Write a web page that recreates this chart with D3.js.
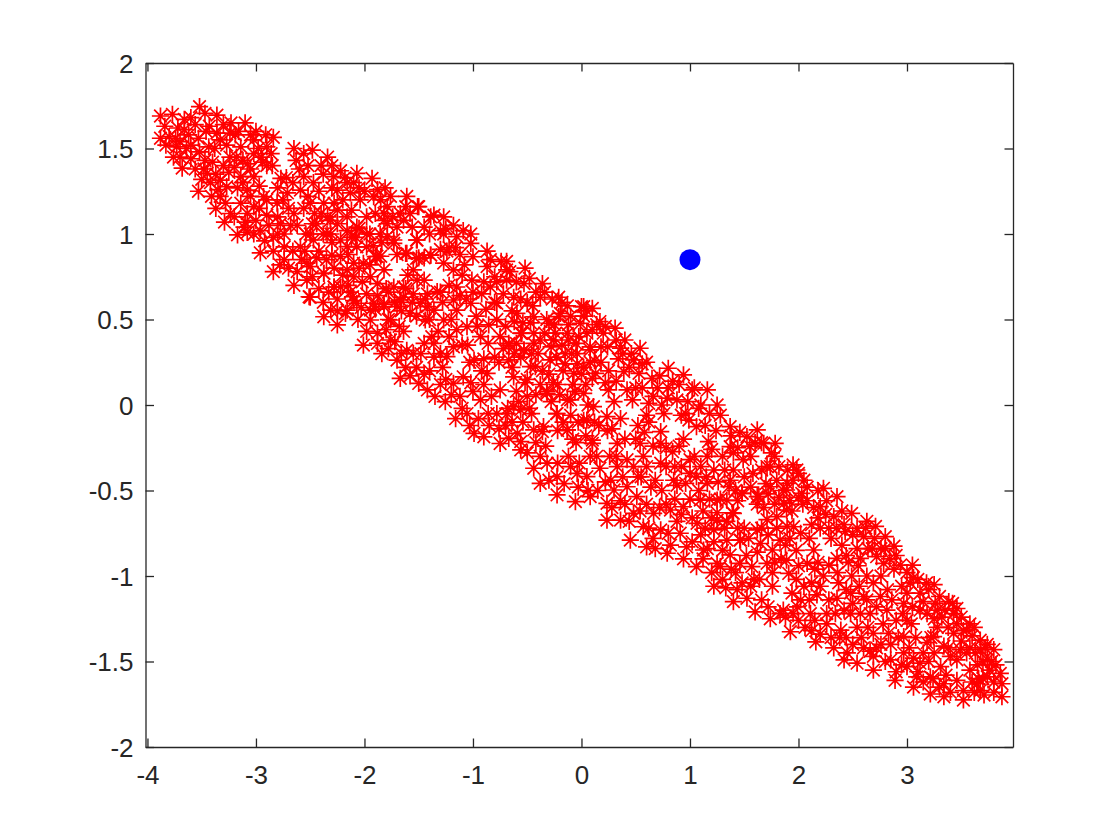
<!DOCTYPE html>
<html>
<head>
<meta charset="utf-8">
<script src="https://cdn.jsdelivr.net/npm/d3@7"></script>
<style>
  html, body { margin: 0; background: #fff; }
  .axis text { font-family: "Liberation Sans", Arial, sans-serif; font-size: 26px; fill: #262626; }
  .axis line, .axis path { stroke: #262626; stroke-width: 1.3; }
</style>
</head>
<body>
<div id="chart"></div>
<script>
const xTicks = [-4, -3, -2, -1, 0, 1, 2, 3];
const yTicks = [-2, -1.5, -1, -0.5, 0, 0.5, 1, 1.5, 2];
const bluePoint = [[1, 0.85]];

// one array per stretch of the band
const leftLobe = [
  [-3.88,1.69],[-3.77,1.70],[-3.66,1.67],[-3.60,1.68],[-3.52,1.745],[-3.47,1.705],[-3.36,1.695],[-3.23,1.65],[-3.10,1.65],[-3.00,1.60],
  [-2.91,1.58],[-2.84,1.565],[-3.88,1.56],[-3.80,1.57],[-3.83,1.52],[-3.73,1.51],[-3.66,1.61],[-3.53,1.56],[-3.60,1.52],[-3.76,1.45],
  [-3.68,1.385],[-3.60,1.44],[-3.53,1.25],[-3.50,1.32],[-3.42,1.30],[-3.40,1.42],[-3.33,1.55],[-3.24,1.59],[-3.36,1.59],[-3.24,1.45],
  [-3.14,1.51],[-3.02,1.55],[-2.90,1.40],[-2.94,1.42],[-2.85,1.40],[-2.65,1.50],[-2.63,1.43],[-2.48,1.49],[-2.56,1.47],[-2.34,1.45],
  [-2.40,1.40],[-2.22,1.37],[-2.07,1.355],[-1.93,1.325],[-1.81,1.27],[-1.61,1.22],[-1.51,1.16],[-1.39,1.10],[-3.37,1.15],[-3.29,1.07],
  [-3.17,0.995],[-3.08,1.01],[-2.84,0.78],[-2.96,0.89],[-2.65,0.70],[-2.50,0.63],[-2.38,0.60],[-2.25,0.55],[-3.14,1.335],[-3.02,1.335],
  [-3.08,1.257],[-2.93,1.218],[-3.14,1.18],[-3.02,1.16],[-2.90,1.11],[-2.77,1.325],[-2.71,1.24],[-2.59,1.257],[-2.65,1.12],[-2.62,1.05],
  [-2.50,1.18],[-2.375,1.18],[-2.25,1.257],[-2.13,1.24],[-2.04,1.20],[-1.915,1.218],[-1.79,1.16],[-1.67,1.12],[-1.70,1.04],[-2.07,1.04],
  [-2.16,1.02],[-2.345,1.00],[-2.47,0.965],[-2.59,0.925],[-2.74,0.925],[-2.84,0.98],[-3.02,1.00],[-3.11,1.04],[-2.96,1.02],[-2.53,0.83],
  [-2.62,0.78],[-2.375,0.77],[-2.22,0.69],[-2.10,0.83],[-1.98,0.925],[-1.885,0.87],[-1.82,0.79],[-1.945,0.75],[-2.10,0.75],[-2.28,0.69],
  [-1.98,0.65],[-1.82,0.59],[-1.64,0.69],[-1.45,0.73],[-1.55,0.79],[-1.61,0.887],[-1.515,0.965],[-1.39,0.877],[-1.485,0.595],[-1.36,0.555],
  [-2.10,0.61],[-2.16,0.555],[-3.45,1.355],[-3.33,1.315],[-3.20,1.39],[-3.08,1.41],[-3.435,1.51],[-3.02,1.47],[-2.90,1.51],[-3.27,1.277],
  [-3.235,1.12],[-2.805,1.18],[-2.775,1.06],[-2.47,1.30],[-2.56,1.335],[-2.285,1.335],[-2.16,1.30],[-2.44,1.06],[-2.25,1.14],[-2.16,1.10],
  [-2.315,1.08],[-1.855,1.00],[-1.79,1.06],[-1.73,0.965],[-2.22,0.867],[-2.07,0.925],[-2.22,0.965],[-2.53,0.73],[-2.74,0.85],[-1.73,0.69],
  [-1.64,0.63],[-1.70,0.575],[-1.915,0.595],[-1.30,1.02],
  [-3.72,1.62],[-3.70,1.45],[-3.64,1.50],[-3.56,1.38],[-3.47,1.43],[-3.46,1.60],[-3.41,1.22],[-3.33,1.22],[-3.30,1.40],[-3.27,1.52],
  [-3.19,1.58],[-3.17,1.27],[-3.20,1.10],[-3.12,1.43],[-3.08,1.12],[-3.05,1.58],[-2.97,1.28],[-2.95,1.45],[-2.97,1.15],
  [-2.88,1.05],[-2.84,0.90],[-2.80,1.27],[-2.74,1.00],[-2.70,1.15],[-2.70,0.80],[-2.66,1.30],[-2.56,1.15],[-2.54,1.00],[-2.55,0.90],
  [-2.46,1.12],[-2.42,1.25],[-2.42,0.90],[-2.38,1.35],[-2.34,1.10],[-2.30,1.27],[-2.30,0.95],[-2.28,0.80],[-2.20,1.20],[-2.12,1.14],
  [-2.12,0.98],[-2.15,0.70],[-2.05,1.27],[-2.02,0.72],[-1.98,1.10],[-1.95,1.00],[-1.90,1.12],[-1.88,1.26]
];
const leftFill = [
  [-3.84,1.63],[-3.74,1.56],[-3.70,1.54],[-3.62,1.58],[-3.56,1.64],[-3.52,1.48],[-3.48,1.38],[-3.43,1.63],[-3.38,1.50],[-3.37,1.35],
  [-3.35,1.26],[-3.30,1.64],[-3.28,1.18],[-3.25,1.36],[-3.18,1.45],[-3.16,1.60],[-3.12,1.30],[-3.10,1.07],[-3.05,1.22],[-3.05,1.38],
  [-3.00,1.08],[-2.98,1.50],[-2.92,0.96],[-2.90,1.20],[-2.86,1.47],[-2.80,1.10],[-2.80,1.00],[-2.78,0.82],[-2.75,1.20],[-2.72,1.33],
  [-2.68,1.05],[-2.66,0.90],[-2.60,1.38],[-2.58,0.85],[-2.52,1.40],[-2.52,1.22],[-2.48,1.06],[-2.48,0.75],[-2.44,0.86],[-2.42,0.68],
  [-2.40,1.12],[-2.38,1.00],[-2.35,0.85],[-2.33,0.66],[-2.30,1.40],[-2.28,1.18],[-2.25,1.06],[-2.25,0.62],[-2.20,0.76],[-2.18,1.33],
  [-2.15,0.88],[-2.13,0.66],[-2.10,1.30],[-2.08,0.98],[-2.05,0.80],[-2.03,0.57],[-2.00,1.25],[-1.98,1.00],[-1.95,0.82],[-1.92,0.93],
  [-1.90,0.56],[-1.85,1.20],[-1.84,0.95],[-1.82,1.12],[-1.80,0.68],[-1.78,0.50],[-1.76,1.22],[-1.74,1.10],[-1.72,0.60],[-1.66,0.55],
  [-1.62,1.16],[-1.60,0.76],[-1.56,1.04],[-1.55,0.65],[-1.52,0.52],[-1.50,0.86]
];
const midLeft = [
  [-1.50,1.16],[-1.36,1.11],[-1.27,1.10],[-1.18,1.05],[-1.02,1.00],[-1.09,1.02],[-0.87,0.90],[-0.69,0.84],[-0.52,0.80],[-0.36,0.71],
  [-0.21,0.63],[0.00,0.575],[0.10,0.565],[0.14,0.47],[-1.27,1.00],[-1.15,0.985],[-1.02,0.945],[-1.30,0.91],[-1.39,0.877],[-1.52,0.965],
  [-1.73,0.945],[-1.85,0.87],[-1.62,0.887],[-1.52,0.858],[-1.27,0.83],[-1.18,0.79],[-1.00,0.867],[-0.87,0.81],[-0.69,0.79],[-1.01,0.73],
  [-1.15,0.69],[-0.84,0.69],[-0.69,0.73],[-0.53,0.71],[-0.38,0.63],[-0.625,0.63],[-0.78,0.595],[-1.02,0.595],[-1.18,0.614],[-1.33,0.663],
  [-1.515,0.73],[-1.62,0.68],[-1.67,0.614],[-1.58,0.536],[-1.44,0.497],[-1.42,0.575],[-1.27,0.497],[-1.15,0.555],[-1.055,0.458],[-0.855,0.468],
  [-0.75,0.40],[-0.67,0.35],[-0.55,0.419],[-0.44,0.516],[-0.595,0.536],[-0.30,0.478],[-0.195,0.536],[-0.01,0.478],[0.02,0.575],[-0.13,0.419],
  [-0.26,0.38],[-0.44,0.36],[-0.09,0.30],[-0.23,0.28],[0.08,0.34],[0.13,0.185],[-0.04,0.24],[-0.47,0.224],[-0.53,0.32],[-0.625,0.165],
  [-0.75,0.088],[-0.87,0.185],[-0.99,0.263],[-1.09,0.165],[-1.18,0.126],[-1.24,0.283],[-1.32,0.43],[-1.64,0.43],[-1.82,0.575],[-1.76,0.497],
  [-1.945,0.497],[-1.98,0.43],[-2.01,0.35],[-1.84,0.30],[-1.70,0.263],[-1.61,0.32],[-1.45,0.36],[-1.36,0.28],[-1.67,0.156],[-1.50,0.126],
  [-1.42,0.088],[-1.255,0.02],[-1.35,0.05],[-1.16,-0.08],[-0.99,-0.166],[-0.90,-0.186],[-0.75,-0.225],[-0.59,-0.166],[-0.44,-0.146],[-0.35,-0.127],
  [-0.13,-0.146],[0.10,-0.205],[-1.055,-0.05],[-0.93,0.03],[-0.78,-0.05],[-0.625,-0.01],[-0.50,0.05],[-0.32,0.08],[-0.13,0.03],[0.02,0.068],
  [0.11,-0.01],[-0.23,-0.05],[0.02,-0.09],[-2.25,0.468],[-2.375,0.516],[-2.175,0.536],[-2.31,0.555],[-2.51,0.633],[-2.50,0.809],[-2.375,0.77],
  [-2.28,0.69],[-2.30,0.877],[-2.16,0.79],[-2.05,1.033],[-1.90,0.867],[-2.07,0.595],[-2.11,0.633],[-1.945,0.555],[-1.88,0.71],[-2.31,1.00],
  [-2.50,1.00],[-2.16,0.926],[-2.01,0.828],[-1.82,1.08],[-1.64,1.08],[-1.79,0.985],
  [-2.06,0.50],[-1.88,0.64],[-1.88,0.42],[-1.78,0.66],[-1.76,0.38],[-1.70,0.88],[-1.68,0.46],
  [-1.55,0.30],[-1.52,0.22],[-1.58,1.12],[-1.45,0.86],[-1.45,1.04],[-1.42,0.65],[-1.40,0.20],[-1.38,0.40],
  [-1.30,0.30],[-1.28,0.60],[-1.25,0.15],[-1.22,0.92],[-1.22,0.40],[-1.20,0.50],[-1.12,0.88],[-1.10,0.76],[-1.10,0.35],[-1.12,0.05],
  [-1.06,0.62],[-1.03,0.25],[-1.00,0.08],[-0.97,0.52],[-0.93,0.40],[-0.92,0.65],[-0.90,0.27],[-0.90,0.12],[-0.86,-0.05],
  [-0.85,-0.12]
];
const midFill = [
  [-1.88,0.36],[-1.80,0.44],[-1.78,0.33],[-1.72,0.37],[-1.66,0.30],[-1.62,0.22],[-1.58,0.17],[-1.56,0.60],[-1.48,0.30],[-1.45,0.18],
  [-1.44,0.62],[-1.40,1.00],[-1.40,0.50],[-1.36,0.36],[-1.30,0.12],[-1.30,0.66],[-1.28,0.22],[-1.25,1.03],[-1.24,0.90],[-1.22,0.70],
  [-1.20,0.06],[-1.18,0.34],[-1.16,0.92],[-1.15,0.44],[-1.12,0.64],[-1.10,-0.02],[-1.08,0.82],[-1.05,0.35],[-1.03,-0.12],[-1.02,0.13],
  [-1.00,0.66],[-0.96,0.46],[-0.95,-0.08],[-0.92,0.20],[-0.90,0.72],[-0.88,0.56],[-0.86,0.36],[-0.84,0.85],[-0.83,0.05],[-0.80,0.28],
  [-0.80,0.60],[-0.78,0.72],[-0.76,-0.14],[-0.74,0.84],[-0.72,0.33],[-0.70,0.46],[-0.66,0.78],[-0.64,-0.10],[-0.64,0.22],[-0.60,0.36],
  [-0.58,0.02],[-0.56,0.28],[-0.54,0.48],[-0.52,0.13],[-0.48,0.74],[-0.48,-0.02],[-0.46,0.30],[-0.45,0.58],[-0.42,0.06],[-0.42,-0.22],
  [-0.38,0.38],[-0.36,0.20],[-0.34,0.66],[-0.32,0.50],[-0.28,0.34],[-0.28,0.02],[-0.26,0.13],[-0.24,0.42],[-0.20,0.06],[-0.18,0.60],
  [-0.17,-0.10],[-0.15,0.24],[-0.12,0.38],[-0.10,0.52],[-0.08,-0.20],[-0.06,0.08],[-0.04,0.30],[-0.03,-0.10],[-0.03,-0.48],[-0.10,-0.36],
  [-0.16,-0.46],[-0.22,-0.34],[-0.30,-0.44],[-0.38,-0.30],[-0.50,-0.28]
];
const centre = [
  [0.17,0.488],[0.31,0.449],[0.54,0.332],[0.48,0.264],[0.80,0.215],[0.94,0.176],[1.16,0.088],[1.25,0.00],[1.37,-0.127],[1.62,-0.146],
  [1.785,-0.224],[1.95,-0.35],[0.65,0.156],[0.53,0.185],[0.39,0.195],[0.24,0.34],[0.36,0.332],[0.08,0.322],[-0.025,0.40],[-0.15,0.30],
  [-0.21,0.517],[-0.44,0.42],[-0.56,0.42],[-0.67,0.36],[-0.62,0.488],[-0.425,0.224],[-0.53,0.322],[-0.67,0.264],[-0.29,0.264],[0.10,0.156],
  [-0.07,0.185],[0.25,0.088],[0.42,0.088],[0.62,0.01],[0.79,0.04],[1.02,0.088],[0.99,-0.088],[0.76,-0.05],[0.52,-0.12],[0.235,-0.068],
  [0.05,-0.088],[-0.13,-0.146],[-0.225,-0.05],[-0.10,0.03],[-0.317,0.068],[-0.56,-0.029],[-0.685,-0.05],[-0.36,-0.156],[-0.56,-0.214],[-0.56,-0.263],
  [-0.67,-0.195],[0.10,-0.224],[0.33,-0.224],[0.54,-0.224],[0.73,-0.156],[0.73,-0.224],[0.84,-0.273],[1.17,-0.214],[1.06,-0.127],[1.37,-0.244],
  [1.525,-0.185],[1.68,-0.224],[1.49,-0.32],[1.71,-0.36],[1.16,-0.30],[1.00,-0.32],[1.06,-0.419],[1.22,-0.38],[1.37,-0.44],[1.48,-0.517],
  [1.62,-0.536],[1.80,-0.44],[1.89,-0.497],[1.985,-0.38],[1.34,-0.556],[1.16,-0.458],[0.96,-0.458],[0.85,-0.44],[0.73,-0.34],[0.57,-0.30],
  [0.48,-0.36],[0.33,-0.36],[0.17,-0.37],[0.05,-0.419],[-0.04,-0.40],[-0.225,-0.419],[-0.317,-0.34],[-0.44,-0.37],[-0.38,-0.458],[-0.225,-0.526],
  [-0.056,-0.565],[0.08,-0.536],[0.235,-0.575],[0.30,-0.497],[0.42,-0.478],[0.51,-0.536],[0.235,-0.673],[0.36,-0.673],[0.48,-0.634],[0.665,-0.634],
  [0.82,-0.614],[0.94,-0.595],[1.095,-0.556],[1.25,-0.556],[1.40,-0.634],[1.25,-0.673],[1.065,-0.692],[0.91,-0.75],[0.73,-0.73],[0.57,-0.712],
  [0.45,-0.79],[0.60,-0.83],[0.79,-0.867],[0.97,-0.83],[1.125,-0.848],[1.34,-0.79],[1.46,-0.79],[1.66,-0.72],[1.80,-0.653],[1.89,-0.614],
  [1.65,-0.81],[1.83,-0.79],[1.955,-0.712],[1.25,-0.926],[1.46,-0.926],[1.06,-0.945],[1.71,-0.926],[1.89,-0.907],
  [-0.80,0.75],[-0.78,0.50],[-0.76,0.25],[-0.72,0.65],[-0.70,-0.12],[-0.68,-0.02],[-0.64,0.55],[-0.62,0.30],[-0.60,0.72],
  [-0.60,0.08],[-0.56,0.62],[-0.54,-0.10],[-0.50,0.60],[-0.50,0.15],[-0.47,0.48],[-0.46,-0.05],[-0.42,0.66],[-0.40,0.30],[-0.38,0.12],
  [-0.34,0.42],[-0.33,-0.24],[-0.30,0.18],[-0.27,0.62],[-0.25,0.47],[-0.22,0.12],[-0.22,-0.15],[-0.18,0.35],[-0.17,0.20],
  [-0.12,-0.30],[-0.13,0.58],[-0.12,0.47],[-0.10,-0.06],[-0.08,0.12],[-0.05,0.36],[-0.05,-0.22],[-0.02,-0.34],[0.00,0.18],[0.02,0.52],
  [0.05,0.42],[0.06,0.00],[0.08,0.25],[0.08,-0.30],
  [0.16,-0.12],[0.18,0.25],[0.20,0.42],[0.22,-0.45],[0.25,0.20],[0.28,-0.14],[0.30,0.02],[0.32,-0.30],[0.34,0.27],
  [0.38,-0.42],[0.40,0.38],[0.40,-0.58],[0.44,0.22],[0.47,0.03],[0.50,-0.20],[0.55,-0.42],[0.56,0.10],[0.60,-0.58],[0.60,0.25],
  [0.62,-0.10],[0.64,-0.48],[0.66,-0.78],[0.70,0.10],[0.72,0.17],[0.74,-0.50],[0.78,-0.36],[0.80,-0.75],[0.84,0.14],[0.86,-0.55],
  [0.88,0.03],[0.88,-0.68],[0.92,-0.06],[0.92,-0.36],[0.94,-0.20],[0.98,0.02],[1.00,-0.55],[1.02,-0.80],[1.04,-0.30],[1.10,0.00],
  [1.10,-0.36],[1.12,-0.62],[1.14,-0.72],[1.18,-0.05],[1.18,-0.55],[1.20,-0.98],[1.24,-0.15],[1.26,-0.45],[1.30,-0.30],[1.30,-0.85],
  [1.30,-1.02],[1.34,-0.68],[1.38,-0.18],[1.40,-0.38],[1.42,-0.98],[1.44,-0.25],[1.44,-0.56],[1.50,-0.42],[1.50,-0.72],[1.52,-0.88],
  [1.56,-0.30],[1.56,-0.48],[1.56,-1.06],[1.60,-0.22],[1.66,-0.38],[1.66,-1.14],[1.68,-0.60],[1.72,-0.52],[1.72,-0.76],[1.75,-0.28],
  [1.76,-0.98],[1.78,-0.58],[1.82,-0.36],[1.84,-0.90],[1.86,-1.20],[1.86,-0.50],[1.88,-0.82],[1.94,-0.62],[1.98,-0.85],[1.98,-1.02],
  [2.00,-1.26]
];
const centreFill = [
  [0.02,0.22],[0.04,0.12],[0.04,-0.18],[0.05,0.55],[0.06,-0.50],[0.10,0.44],[0.12,0.26],[0.12,-0.10],[0.14,-0.30],[0.15,-0.50],
  [0.18,0.34],[0.22,0.46],[0.22,0.13],[0.24,-0.15],[0.26,-0.30],[0.27,-0.44],[0.28,-0.60],[0.32,0.38],[0.32,0.14],[0.36,-0.08],
  [0.36,-0.56],[0.38,0.30],[0.40,-0.20],[0.42,-0.32],[0.44,-0.68],[0.46,0.30],[0.50,0.10],[0.52,-0.42],[0.54,-0.62],[0.56,0.24],
  [0.58,-0.16],[0.60,-0.06],[0.60,-0.36],[0.62,-0.72],[0.66,0.05],[0.66,-0.24],[0.68,-0.44],[0.68,-0.84],[0.72,-0.60],[0.74,0.00],
  [0.78,-0.25],[0.78,-0.58],[0.80,0.10],[0.82,-0.82],[0.86,-0.36],[0.88,-0.47],[0.90,0.12],[0.90,-0.24],[0.92,-0.64],[0.94,-0.90],
  [0.96,-0.05],[1.00,-0.40],[1.02,-0.66],[1.04,0.10],[1.08,-0.02],[1.08,-0.50],[1.10,-0.76],[1.12,-0.90],[1.14,-0.12],[1.15,-0.42],
  [1.20,-0.26],[1.20,-0.66],[1.22,-0.80],[1.28,-0.06],[1.28,-0.55],[1.32,-0.38],[1.32,-0.72],[1.38,-0.96],[1.40,-0.28],[1.42,-0.50],
  [1.44,-0.72],[1.46,-0.16],[1.48,-1.04],[1.54,-0.78],[1.55,-0.24],[1.58,-0.40],[1.62,-0.58],[1.62,-0.86],[1.64,-1.02],[1.66,-0.22],
  [1.70,-0.46],[1.72,-1.18],[1.74,-0.36],[1.78,-0.30],[1.78,-0.92],[1.80,-0.72],[1.82,-0.54],[1.88,-1.24],[1.90,-0.38],[1.92,-0.56],
  [1.92,-0.78],[1.95,-0.44],[1.95,-1.22],[2.00,-0.94],[2.00,-0.54],[2.02,-1.14]
];
const rightLobe = [
  [2.00,-0.40],[2.23,-0.487],[2.355,-0.536],[2.49,-0.634],[2.63,-0.68],[2.71,-0.71],[2.80,-0.77],[2.88,-0.825],[3.05,-0.936],[3.06,-1.01],
  [3.25,-1.05],[3.385,-1.15],[3.46,-1.19],[3.58,-1.28],[3.74,-1.40],[3.80,-1.43],[3.86,-1.57],[3.875,-1.63],[3.875,-1.706],[1.40,-1.15],
  [1.33,-1.07],[1.22,-1.06],[1.60,-1.21],[1.74,-1.25],[1.925,-1.326],[2.16,-1.385],[2.325,-1.42],[2.42,-1.49],[2.54,-1.51],[2.69,-1.55],
  [2.89,-1.61],[3.06,-1.65],[3.215,-1.69],[3.34,-1.706],[3.52,-1.725],[3.71,-1.696],[3.645,-1.63],[1.25,-0.63],[1.39,-0.63],[1.36,-0.478],
  [1.48,-0.517],[1.635,-0.536],[1.74,-0.478],[1.895,-0.458],[2.03,-0.517],[1.865,-0.575],[2.04,-0.58],[2.20,-0.594],[2.325,-0.653],[2.43,-0.74],
  [2.60,-0.77],[1.62,-0.73],[1.71,-0.67],[1.895,-0.71],[2.02,-0.75],[2.14,-0.848],[2.08,-0.926],[1.465,-0.79],[1.22,-0.73],[1.16,-0.84],
  [1.37,-0.877],[1.28,-0.945],[1.57,-0.945],[1.76,-0.848],[1.91,-0.985],[2.05,-1.06],[1.94,-1.10],[1.76,-1.06],[1.59,-1.02],[1.435,-1.08],
  [1.525,-1.13],[2.23,-1.00],[2.37,-1.04],[2.28,-0.936],[2.355,-0.897],[2.49,-1.00],[2.57,-0.897],[2.72,-0.887],[2.785,-0.926],[2.94,-0.936],
  [2.69,-1.04],[2.63,-1.00],[2.755,-1.12],[2.63,-1.14],[3.03,-1.04],[2.97,-1.16],[2.815,-1.20],[3.12,-1.10],[3.26,-1.16],[3.185,-1.22],
  [3.43,-1.22],[3.00,-1.26],[3.28,-1.30],[3.43,-1.335],[3.55,-1.316],[3.675,-1.375],[3.63,-1.45],[3.74,-1.49],[3.49,-1.43],[3.34,-1.41],
  [3.185,-1.39],[2.97,-1.355],[2.97,-1.45],[2.83,-1.335],[2.69,-1.335],[2.54,-1.30],[2.57,-1.22],[2.39,-1.316],[2.26,-1.28],[2.26,-1.22],
  [2.11,-1.22],[1.99,-1.18],[1.83,-1.22],[2.17,-1.11],[2.355,-1.13],[2.48,-1.10],[2.45,-1.45],[2.69,-1.47],[2.85,-1.49],[3.00,-1.53],
  [3.12,-1.51],[3.215,-1.59],[3.34,-1.63],[3.46,-1.61],[3.31,-1.53],[3.46,-1.49],[3.58,-1.55],[3.74,-1.59],[3.675,-1.67],[3.52,-1.67],
  [3.09,-1.59],[3.245,-1.355],
  [2.05,-0.44],[2.08,-0.56],[2.10,-0.78],[2.10,-1.14],[2.12,-1.32],[2.14,-0.60],[2.15,-0.96],[2.18,-0.50],[2.20,-0.72],[2.20,-1.06],
  [2.25,-0.64],[2.28,-1.14],[2.30,-0.78],[2.30,-1.36],[2.36,-0.98],[2.40,-0.62],[2.40,-0.82],[2.42,-1.20],[2.44,-1.08],[2.46,-0.92],
  [2.50,-0.76],[2.50,-1.40],[2.54,-0.84],[2.56,-1.06],[2.60,-1.42],[2.62,-0.72],[2.66,-1.22],[2.68,-0.84],[2.72,-1.42],[2.76,-1.00],
  [2.78,-1.28],[2.80,-0.84],[2.82,-1.08],[2.85,-1.40],[2.88,-0.96],[2.90,-1.26],[2.90,-1.56],[2.95,-1.06],[3.00,-0.98],[3.02,-1.42],
  [3.05,-1.18],[3.08,-1.36],[3.10,-1.02],[3.15,-1.15],[3.15,-1.45],[3.15,-1.62],[3.20,-1.08],[3.25,-1.25],[3.25,-1.45],[3.30,-1.12],
  [3.30,-1.65],[3.35,-1.20],[3.38,-1.30],[3.40,-1.47],[3.40,-1.68],[3.46,-1.28],[3.50,-1.38],[3.55,-1.45],[3.60,-1.35],
  [3.62,-1.68],[3.65,-1.52],[3.68,-1.43],[3.70,-1.60],[3.78,-1.50],[3.80,-1.62],[3.80,-1.68]
];
const rightFill = [
  [2.06,-1.30],[2.08,-0.48],[2.12,-0.70],[2.12,-1.04],[2.15,-1.26],[2.18,-0.66],[2.18,-0.92],[2.20,-1.34],[2.26,-0.56],[2.28,-0.72],
  [2.34,-1.22],[2.35,-0.72],[2.38,-1.36],[2.42,-0.70],[2.44,-0.88],[2.44,-1.36],[2.48,-1.22],[2.50,-1.16],[2.54,-0.72],[2.55,-0.94],
  [2.58,-1.36],[2.60,-1.12],[2.64,-0.84],[2.64,-1.30],[2.66,-1.44],[2.70,-0.78],[2.72,-1.18],[2.76,-1.40],[2.76,-0.84],[2.80,-1.50],
  [2.84,-0.90],[2.86,-1.14],[2.90,-0.88],[2.92,-1.36],[2.95,-1.52],[2.96,-1.22],[3.00,-1.10],[3.04,-1.28],[3.06,-1.48],[3.10,-1.56],
  [3.12,-1.20],[3.18,-1.04],[3.20,-1.50],[3.22,-1.36],[3.24,-1.60],[3.28,-1.20],[3.32,-1.24],[3.36,-1.58],[3.38,-1.42],[3.42,-1.16],
  [3.50,-1.24],[3.52,-1.32],[3.58,-1.42],[3.60,-1.62],[3.62,-1.30],[3.66,-1.60],[3.70,-1.50],[3.72,-1.42],[3.76,-1.55],[3.82,-1.52]
];

const width = 1120, height = 840;
const margin = { top: 63, right: 107, bottom: 93, left: 145.5 };
const innerWidth = width - margin.left - margin.right;
const innerHeight = height - margin.top - margin.bottom;

const xScale = d3.scaleLinear().domain([-4.018, 3.977]).range([0, innerWidth]);
const yScale = d3.scaleLinear().domain([-2, 2]).range([innerHeight, 0]);

const svg = d3.select("#chart").append("svg")
  .attr("width", width).attr("height", height)
  .style("display", "block");
const chart = svg.append("g").attr("transform", `translate(${margin.left},${margin.top})`);

// Axes, ticks point inward on all four sides like the box of the original
const tickLen = 8.5;
chart.append("g").attr("class", "axis")
  .attr("transform", `translate(0,${innerHeight})`)
  .call(d3.axisBottom(xScale).tickValues(xTicks).tickSizeInner(-tickLen).tickSizeOuter(0).tickPadding(19).tickFormat(String));
chart.append("g").attr("class", "axis")
  .call(d3.axisTop(xScale).tickValues(xTicks).tickSizeInner(-tickLen).tickSizeOuter(0))
  .selectAll("text").remove();
chart.append("g").attr("class", "axis")
  .call(d3.axisLeft(yScale).tickValues(yTicks).tickSizeInner(-tickLen).tickSizeOuter(0).tickPadding(12).tickFormat(String))
  .selectAll("text").attr("dy", "0.36em");
chart.append("g").attr("class", "axis")
  .attr("transform", `translate(${innerWidth},0)`)
  .call(d3.axisRight(yScale).tickValues(yTicks).tickSizeInner(-tickLen).tickSizeOuter(0))
  .selectAll("text").remove();

// MATLAB style asterisk
const star = {
  draw(ctx) {
    const r = 8.6, d = 6.3;
    ctx.moveTo(-r, 0); ctx.lineTo(r, 0);
    ctx.moveTo(0, -r); ctx.lineTo(0, r);
    ctx.moveTo(-d, -d); ctx.lineTo(d, d);
    ctx.moveTo(-d, d); ctx.lineTo(d, -d);
  }
};
const starPath = d3.symbol().type(star)();

const points = [...leftLobe, ...leftFill, ...midLeft, ...midFill, ...centre, ...centreFill, ...rightLobe, ...rightFill];
chart.append("g").selectAll("path")
  .data(points)
  .join("path")
  .attr("d", starPath)
  .attr("transform", (d) => `translate(${xScale(d[0])},${yScale(d[1])})`)
  .attr("fill", "none")
  .attr("stroke", "#ff0000")
  .attr("stroke-width", 1.7);

chart.append("g").selectAll("circle")
  .data(bluePoint)
  .join("circle")
  .attr("cx", (d) => xScale(d[0]))
  .attr("cy", (d) => yScale(d[1]))
  .attr("r", 10.5)
  .attr("fill", "#0000ff");
</script>
</body>
</html>
